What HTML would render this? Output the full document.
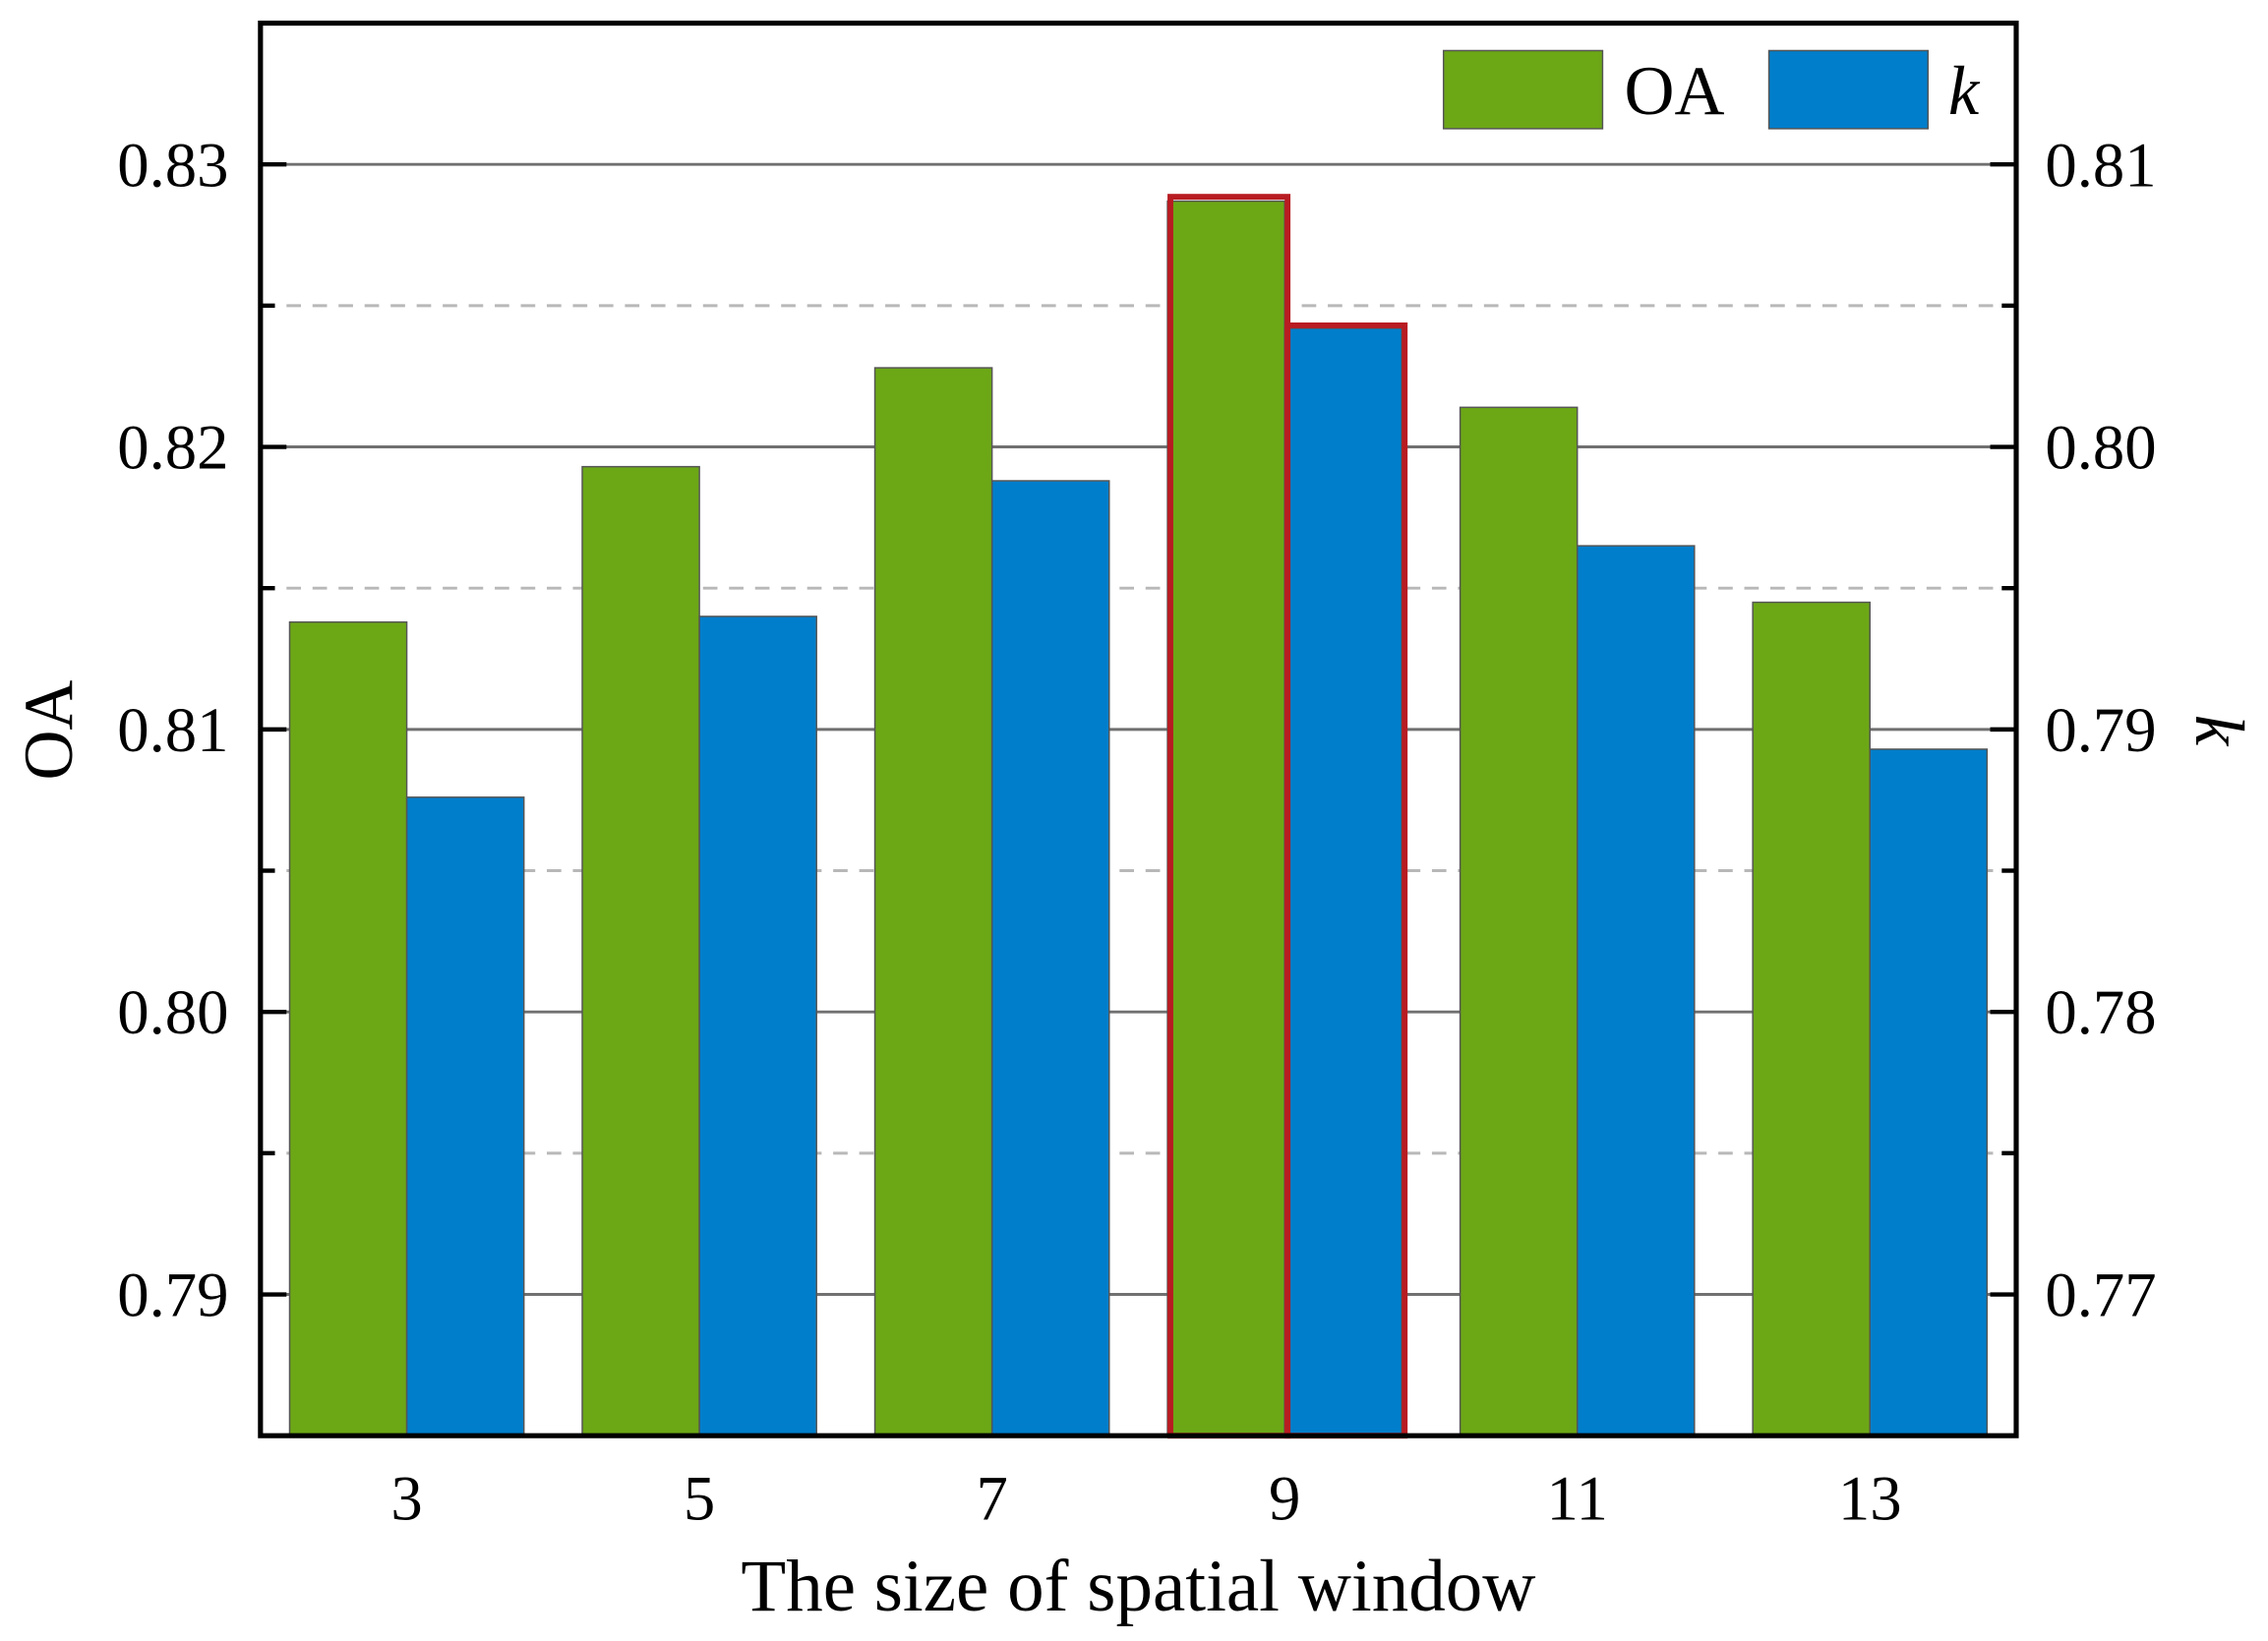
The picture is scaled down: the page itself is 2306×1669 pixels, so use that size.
<!DOCTYPE html>
<html><head><meta charset="utf-8"><style>
html,body{margin:0;padding:0;background:#fff;}
svg{display:block;}
text{font-family:"Liberation Serif",serif;fill:#000;}
</style></head><body>
<svg id="chart" width="2306" height="1669" viewBox="0 0 1568 1135">
<g id="grid"></g>
<g id="bars"></g>
<g id="axes"></g>
<text x="34" y="505" font-size="48" text-anchor="middle" transform="rotate(-90 34 505)" dominant-baseline="central">OA</text>
<text x="1534" y="505" font-size="48" font-style="italic" text-anchor="middle" transform="rotate(90 1534 505)" dominant-baseline="central">k</text>
<text x="787" y="1114" font-size="51" text-anchor="middle">The size of spatial window</text>
<g>
<rect x="998" y="35" width="110" height="54" fill="#6ca716" stroke="#555" stroke-width="1"/>
<text x="1123" y="79" font-size="48">OA</text>
<rect x="1223" y="35" width="110" height="54" fill="#007ecb" stroke="#555" stroke-width="1"/>
<text x="1347" y="79" font-size="48" font-style="italic">k</text>
</g>
</svg>
<script>
const categories = ["3","5","7","9","11","13"];
const oaValues = [0.8138, 0.8193, 0.8228, 0.8287, 0.8214, 0.8145];
const kValues = [0.7876, 0.7940, 0.7988, 0.8042, 0.7965, 0.7893];
const leftTicks = ["0.79","0.80","0.81","0.82","0.83"];
const rightTicks = ["0.77","0.78","0.79","0.80","0.81"];
const highlightIndex = 3;

const NS="http://www.w3.org/2000/svg";
const L=180,R=1394,T=16,B=993;
const yL=v=>B-(v-0.785)/(0.835-0.785)*(B-T);
const yR=v=>B-(v-0.765)/(0.815-0.765)*(B-T);
const slot=(R-L)/categories.length;
const xc=i=>L+slot*(i+0.5);
const bw=81;
function mk(tag,attrs,parent){const e=document.createElementNS(NS,tag);for(const k in attrs)e.setAttribute(k,attrs[k]);parent.appendChild(e);return e;}
const grid=document.getElementById('grid'),bars=document.getElementById('bars'),axes=document.getElementById('axes');
leftTicks.forEach((t,i)=>{
  const y=yL(parseFloat(t));
  const g=mk('line',{x1:L,x2:R,y1:y,y2:y,stroke:'#707070','stroke-width':2},grid);
  
  
  const ym=yL(parseFloat(t)+0.005);
  if(ym>T){const d=mk('line',{x1:L,x2:R,y1:ym,y2:ym,stroke:'#b8b8b8','stroke-width':2,'stroke-dasharray':'10 8'},grid);
  
  }
  const tl=mk('text',{x:L-22,y:y+15,'font-size':44,'text-anchor':'end'},axes);tl.textContent=t;
  
  
  mk('line',{x1:L,x2:L+18,y1:y,y2:y,stroke:'#000','stroke-width':3},axes);
  mk('line',{x1:R-18,x2:R,y1:y,y2:y,stroke:'#000','stroke-width':3},axes);
  if(ym>T){mk('line',{x1:L,x2:L+10,y1:ym,y2:ym,stroke:'#000','stroke-width':3},axes);
  mk('line',{x1:R-10,x2:R,y1:ym,y2:ym,stroke:'#000','stroke-width':3},axes);}
});
rightTicks.forEach(t=>{
  const y=yR(parseFloat(t));
  const tl=mk('text',{x:R+20,y:y+15,'font-size':44,'text-anchor':'start'},axes);tl.textContent=t;
  
  
});
categories.forEach((c,i)=>{
  const x=xc(i);
  const yo=yL(oaValues[i]),yk=yR(kValues[i]);
  const a=mk('rect',{x:x-bw,y:yo,width:bw,height:B-yo,fill:'#6ca716',stroke:'#555','stroke-width':1},bars);
  
  
  const b=mk('rect',{x:x,y:yk,width:bw,height:B-yk,fill:'#007ecb',stroke:'#555','stroke-width':1},bars);
  
  
  if(i===highlightIndex){
    const h1=mk('rect',{x:x-bw+2,y:yo-3,width:bw,height:B-yo+3,fill:'none',stroke:'#b81c22','stroke-width':4},bars);
    
    
    const h2=mk('rect',{x:x+2,y:yk-2,width:bw,height:B-yk+2,fill:'none',stroke:'#b81c22','stroke-width':4},bars);
    
    
  }
  const tl=mk('text',{x:x,y:1051,'font-size':44,'text-anchor':'middle'},axes);tl.textContent=c;
  
  
});
const fr=mk('rect',{x:L,y:T,width:R-L,height:B-T,fill:'none',stroke:'#000','stroke-width':3.5},axes);


</script>
</body></html>
